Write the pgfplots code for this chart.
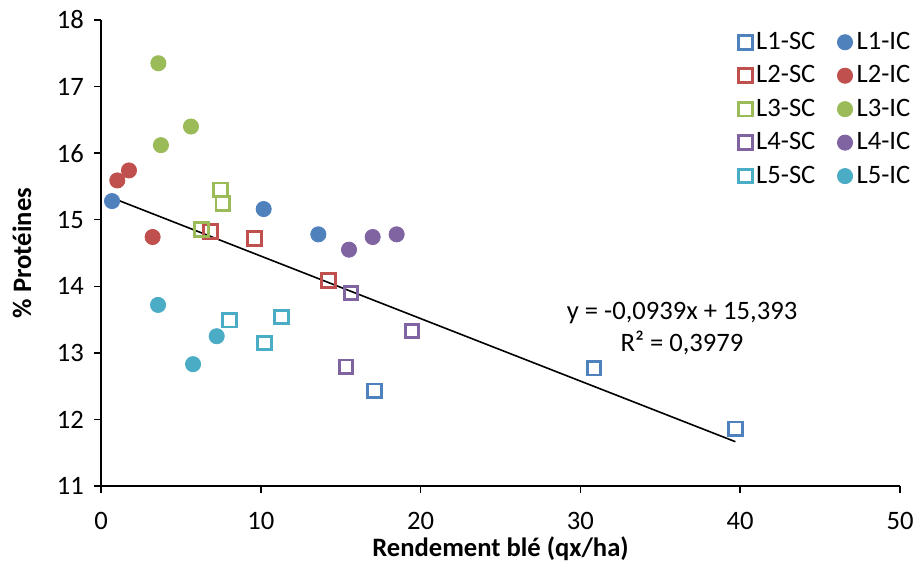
\documentclass[border=0pt]{standalone}
\usepackage{pgfplots}
\pgfplotsset{compat=1.18}
\usepackage{fontspec}
\setmainfont{Carlito}

\definecolor{cBlue}{HTML}{4F81BD}
\definecolor{cRed}{HTML}{C0504D}
\definecolor{cGreen}{HTML}{9BBB59}
\definecolor{cPurple}{HTML}{8064A2}
\definecolor{cCyan}{HTML}{4BACC6}

\pgfplotsset{
  sc/.style={only marks, mark=square, mark size=3.4pt, line width=1.45pt, draw=#1, mark options={fill=white}},
  ic/.style={only marks, mark=*, mark size=3.8pt, draw=#1, fill=#1},
}

\begin{document}
\begin{tikzpicture}
\begin{axis}[
  scale only axis,
  width=399.5pt, height=233pt,
  xmin=0, xmax=50, ymin=11, ymax=18,
  xtick={0,10,20,30,40,50},
  ytick={11,12,13,14,15,16,17,18},
  axis x line*=bottom, axis y line*=left,
  axis line style={-, line width=0.75pt, black},
  tick align=outside, major tick length=3.5pt,
  tick style={line width=0.75pt, black},
  /pgf/number format/assume math mode=true,
  ticklabel style={font=\fontsize{13.3}{15}\selectfont},
  yticklabel style={xshift=-1.5pt},
  xticklabel style={yshift=-6pt},
  xlabel={\textbf{Rendement blé (qx/ha)}},
  ylabel={\textbf{\% Protéines}},
  label style={font=\fontsize{13.3}{15}\selectfont},
  xlabel style={at={(axis description cs:0.5,-0.135)}, anchor=center},
  ylabel style={at={(axis description cs:-0.099,0.5)}, anchor=center, rotate=0},
  legend columns=2,
  legend cell align=left,
  legend image code/.code={\draw[#1] plot coordinates {(0.12cm,0cm)};},
  legend style={draw=none, fill=none, at={(rel axis cs:0.79,0.992)}, anchor=north west,
    font=\fontsize{13.3}{15}\selectfont, row sep=2.6pt,
    /tikz/every even column/.append style={column sep=9pt}},
  clip=false,
]
% L1
\addplot[sc=cBlue] coordinates {(17.1,12.43) (30.85,12.77) (39.7,11.86)};
\addlegendentry{L1-SC}
\addplot[ic=cBlue] coordinates {(0.69,15.28) (10.18,15.16) (13.6,14.78)};
\addlegendentry{L1-IC}
% L2
\addplot[sc=cRed] coordinates {(6.86,14.82) (9.6,14.72) (14.25,14.09)};
\addlegendentry{L2-SC}
\addplot[ic=cRed] coordinates {(1.02,15.59) (1.75,15.74) (3.23,14.74)};
\addlegendentry{L2-IC}
% L3
\addplot[sc=cGreen] coordinates {(7.47,15.45) (7.62,15.24) (6.3,14.85)};
\addlegendentry{L3-SC}
\addplot[ic=cGreen] coordinates {(3.59,17.35) (5.63,16.40) (3.75,16.12)};
\addlegendentry{L3-IC}
% L4
\addplot[sc=cPurple] coordinates {(15.64,13.90) (19.46,13.33) (15.33,12.79)};
\addlegendentry{L4-SC}
\addplot[ic=cPurple] coordinates {(15.52,14.55) (17.0,14.74) (18.5,14.78)};
\addlegendentry{L4-IC}
% L5
\addplot[sc=cCyan] coordinates {(8.03,13.49) (11.28,13.54) (10.22,13.15)};
\addlegendentry{L5-SC}
\addplot[ic=cCyan] coordinates {(3.57,13.72) (7.24,13.25) (5.76,12.83)};
\addlegendentry{L5-IC}
% linear trend over all points: y = -0.0939x + 15.393
\addplot[forget plot, black, line width=0.8pt] coordinates {(0.69,15.3282) (39.7,11.6652)};
\node[align=center, font=\fontsize{13.3}{16}\selectfont] at (axis cs:36.36,13.36)
  {y = -0,0939x + 15,393\\R² = 0,3979};
\coordinate (BL) at ([xshift=-50.5pt, yshift=-41pt]rel axis cs:0,0);
\coordinate (TR) at ([xshift=9.5pt, yshift=10pt]rel axis cs:1,1);
\end{axis}
\pgfresetboundingbox
\path (BL) rectangle (TR);
\end{tikzpicture}
\end{document}
